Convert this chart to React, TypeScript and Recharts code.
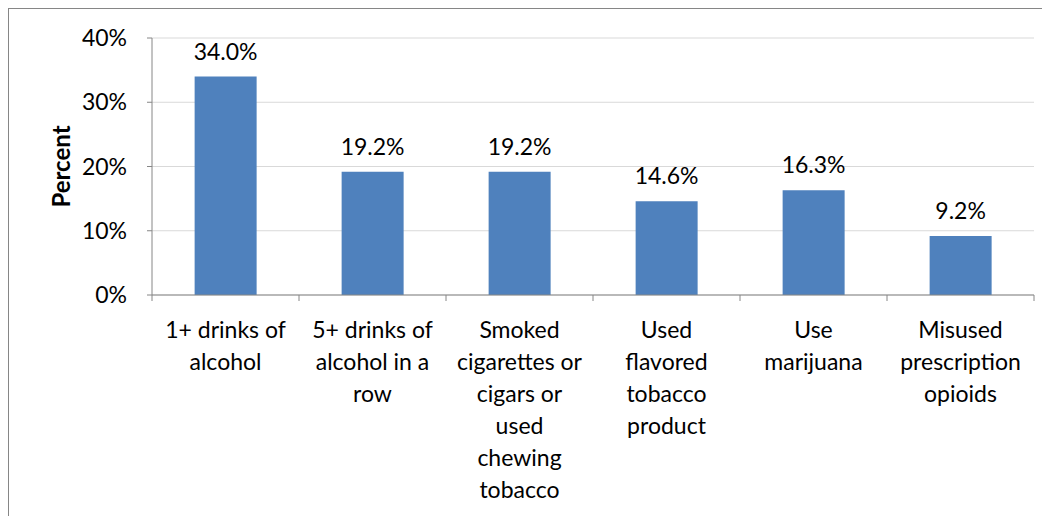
import { BarChart, Bar, XAxis, YAxis, CartesianGrid, LabelList, Label } from "recharts";

// ── Data ───────────────────────────────────────────────────────────────
const categories = [
  "1+ drinks of\nalcohol",
  "5+ drinks of\nalcohol in a\nrow",
  "Smoked\ncigarettes or\ncigars or\nused\nchewing\ntobacco",
  "Used\nflavored\ntobacco\nproduct",
  "Use\nmarijuana",
  "Misused\nprescription\nopioids",
];
const percents = [34.0, 19.2, 19.2, 14.6, 16.3, 9.2];
const yTicks = [0, 10, 20, 30, 40];

const data = categories.map((name, i) => ({ name, value: percents[i] }));

const FONT = "Lato, 'Open Sans', sans-serif";
const FS = 23;
const AXIS = "#868686";
const GRID = "#d9d9d9";
const BAR = "#4f81bd";

// ── Category tick: wrapped lines + Excel-style boundary tick marks ────
function CategoryTick(props: any) {
  const { x, y, payload, index, visibleTicksCount } = props;
  const half = payload.offset ?? 0;
  const lines = String(payload.value).split("\n");
  return (
    <g>
      <line x1={x - half} x2={x - half} y1={y} y2={y + 6} stroke={AXIS} />
      {index === visibleTicksCount - 1 && (
        <line x1={x + half} x2={x + half} y1={y} y2={y + 6} stroke={AXIS} />
      )}
      <text x={x} y={y} textAnchor="middle" fontSize={FS} fontFamily={FONT} fill="#000">
        {lines.map((l, i) => (
          <tspan key={i} x={x} dy={i === 0 ? 43 : 32}>{l}</tspan>
        ))}
      </text>
    </g>
  );
}

function YTitle({ viewBox }: any) {
  const cx = viewBox.x + 51;
  const cy = viewBox.y + viewBox.height / 2;
  return (
    <text x={cx} y={cy} transform={`rotate(-90, ${cx}, ${cy})`} textAnchor="middle"
      dominantBaseline="central" fontSize={24} fontWeight={700} fontFamily={FONT} fill="#000">
      Percent
    </text>
  );
}

export default function App() {
  return (
    <div style={{ width: 1041, height: 507, borderLeft: `1px solid ${AXIS}`, borderTop: `1px solid ${AXIS}`, fontFamily: FONT }}>
      <BarChart width={1041} height={507} data={data} barCategoryGap="29%"
        margin={{ top: 29, right: 16, bottom: 0, left: 0 }}>
        <CartesianGrid vertical={false} stroke={GRID} />
        <XAxis dataKey="name" interval={0} height={221} tickSize={0} tickMargin={0}
          axisLine={{ stroke: AXIS }} tickLine={false} tick={<CategoryTick />} />
        <YAxis width={143} domain={[0, 40]} ticks={yTicks} interval={0}
          tickFormatter={(v) => `${v}%`} tickSize={5} tickMargin={20}
          axisLine={{ stroke: AXIS }} tickLine={{ stroke: AXIS }}
          tick={{ fontSize: FS, fill: "#000", fontFamily: FONT }}>
          <Label content={<YTitle />} />
        </YAxis>
        <Bar dataKey="value" fill={BAR} isAnimationActive={false}>
          <LabelList dataKey="value" position="top" offset={17} fill="#000" fontSize={FS}
            fontFamily={FONT} formatter={(v: any) => `${Number(v).toFixed(1)}%`} />
        </Bar>
      </BarChart>
    </div>
  );
}
